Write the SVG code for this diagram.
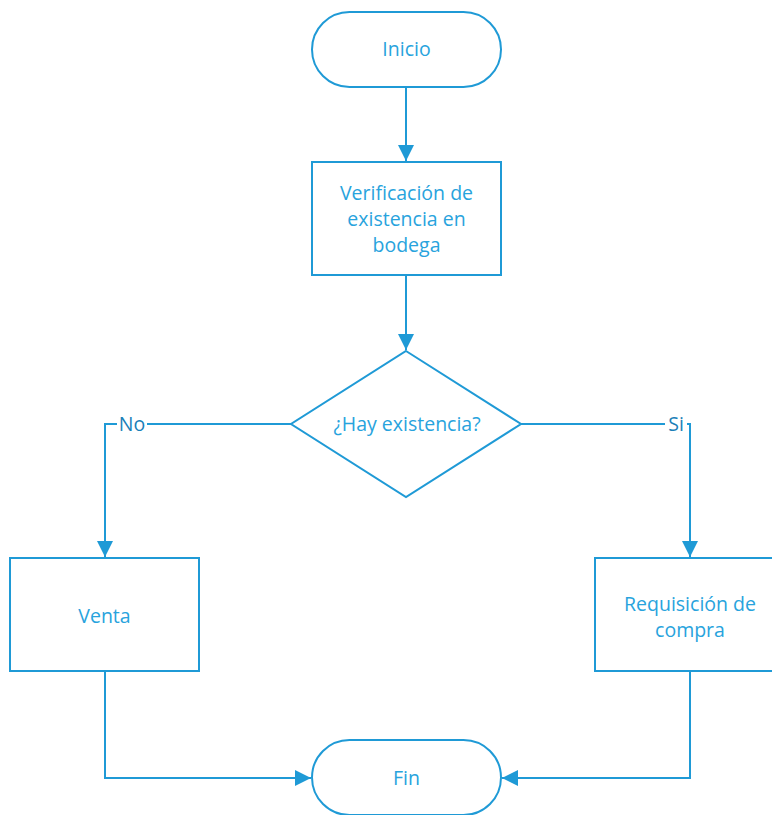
<svg xmlns="http://www.w3.org/2000/svg" width="772" height="815" viewBox="0 0 772 815">
<defs>
<style>
.n{fill:#fff;stroke:#1f9ad6;stroke-width:2}
.t{font-family:"Open Sans","Noto Sans",sans-serif;font-size:19.5px;fill:#28a3dd;text-anchor:middle}
.l{font-family:"Open Sans","Noto Sans",sans-serif;font-size:19.5px;fill:#1b80b8;text-anchor:middle}
.c{fill:none;stroke:#1f9ad6;stroke-width:2}
.lb{fill:#fff}
</style>
<marker id="a2" viewBox="0 0 10 10" refX="10" refY="5" markerWidth="16" markerHeight="16" markerUnits="userSpaceOnUse" orient="auto">
<path d="M0,0 L10,5 L0,10 z" fill="#1f9ad6"/>
</marker>
</defs>
<g id="connectors">
<path class="c" d="M406,88 V161" marker-end="url(#a2)"/>
<path class="c" d="M406,276 V350" marker-end="url(#a2)"/>
<path class="c" d="M291,424 H105 V557" marker-end="url(#a2)"/>
<path class="c" d="M521,424 H690 V557" marker-end="url(#a2)"/>
<path class="c" d="M105,672 V778 H311" marker-end="url(#a2)"/>
<path class="c" d="M690,672 V778 H502" marker-end="url(#a2)"/>
<rect class="lb" x="117" y="413" width="30" height="22"/>
<text class="l" x="132" y="431">No</text>
<rect class="lb" x="665" y="413" width="22" height="22"/>
<text class="l" x="676" y="431">Si</text>
</g>
<g id="inicio">
<rect class="n" x="312" y="12" width="189" height="75" rx="37.5"/>
<text class="t" x="406.5" y="56">Inicio</text>
</g>
<g id="verificacion">
<rect class="n" x="312" y="162" width="189" height="113"/>
<text class="t" x="406.5" y="200">Verificación de</text>
<text class="t" x="406.5" y="226">existencia en</text>
<text class="t" x="406.5" y="252">bodega</text>
</g>
<g id="decision">
<polygon class="n" points="406,351 521,424 406,497 291,424"/>
<text class="t" x="407" y="431">¿Hay existencia?</text>
</g>
<g id="venta">
<rect class="n" x="10" y="558" width="189" height="113"/>
<text class="t" x="104.5" y="623">Venta</text>
</g>
<g id="requisicion">
<rect class="n" x="595" y="558" width="189" height="113"/>
<text class="t" x="690" y="611">Requisición de</text>
<text class="t" x="690" y="637">compra</text>
</g>
<g id="fin">
<rect class="n" x="312" y="740" width="189" height="75" rx="37.5"/>
<text class="t" x="406.5" y="785">Fin</text>
</g>
</svg>
